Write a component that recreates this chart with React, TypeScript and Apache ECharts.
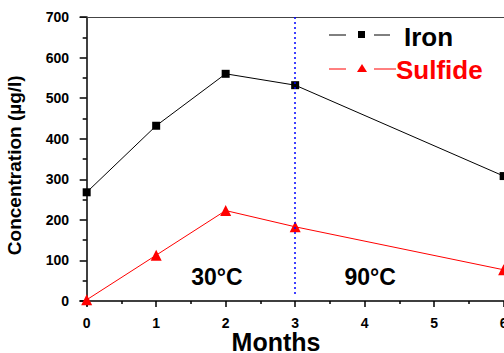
import React, { useEffect, useRef } from "react";
import * as echarts from "echarts";

const months = [0, 1, 2, 3, 6];
const iron = [268, 432, 560, 532, 308];
const sulfide = [3, 113, 223, 183, 77];
const yTicks = [0, 100, 200, 300, 400, 500, 600, 700];
const yMinor = [50, 150, 250, 350, 450, 550, 650];
const xTicks = [0, 1, 2, 3, 4, 5, 6];
const xMinor = [0.5, 1.5, 2.5, 3.5, 4.5, 5.5];
const dividerMonth = 3;
const tempLabels = [
  { text: "30°C", x: 1.875 },
  { text: "90°C", x: 4.08 },
];

const FONT = "Liberation Sans, Arial, sans-serif";

export default function App() {
  const ref = useRef<HTMLDivElement>(null);
  useEffect(() => {
    const chart = echarts.init(ref.current!, null, { renderer: "svg" });
    const baseX = {
      type: "value",
      min: -0.096,
      max: 6.005,
      splitLine: { show: false },
    };
    const baseY = {
      type: "value",
      min: -11,
      max: 700,
      splitLine: { show: false },
    };
    chart.setOption({
      animation: false,
      backgroundColor: "#fff",
      grid: {
        left: 80,
        top: 17,
        right: 0,
        height: 288.5,
        containLabel: false,
        outerBoundsMode: "none",
      },
      xAxis: [
        {
          ...baseX,
          position: "bottom",
          name: "Months",
          nameLocation: "middle",
          nameGap: 26,
          nameMoveOverlap: false,
          nameTextStyle: { fontFamily: FONT, fontWeight: "bold", fontSize: 25, lineHeight: 20, color: "#000", padding: [0, 32, 0, 0] },
          axisLine: { show: true, lineStyle: { color: "#000", width: 1.5 } },
          axisTick: { show: true, inside: false, length: 6, customValues: xTicks, lineStyle: { color: "#000", width: 1.5 } },
          axisLabel: { show: true, customValues: xTicks, margin: 10, fontFamily: FONT, fontWeight: "bold", fontSize: 14, color: "#000" },
        },
        {
          ...baseX,
          position: "bottom",
          axisLine: { show: false },
          axisTick: { show: true, length: 3, customValues: xMinor, lineStyle: { color: "#000", width: 1.5 } },
          axisLabel: { show: false },
        },
        {
          ...baseX,
          position: "top",
          axisLine: { show: true, lineStyle: { color: "#444", width: 1 } },
          axisTick: { show: false },
          axisLabel: { show: false },
        },
      ],
      yAxis: [
        {
          ...baseY,
          position: "left",
          name: "Concentration (µg/l)",
          nameLocation: "middle",
          nameGap: 56,
          nameMoveOverlap: false,
          nameTextStyle: { fontFamily: FONT, fontWeight: "bold", fontSize: 19, color: "#000", padding: [0, 8, 0, 0] },
          axisLine: { show: true, lineStyle: { color: "#000", width: 1.5 } },
          axisTick: { show: true, length: 7, customValues: yTicks, lineStyle: { color: "#000", width: 1.5 } },
          axisLabel: { show: true, customValues: yTicks, margin: 11, fontFamily: FONT, fontWeight: "bold", fontSize: 14, color: "#000" },
        },
        {
          ...baseY,
          position: "left",
          axisLine: { show: false },
          axisTick: { show: true, length: 4, customValues: yMinor, lineStyle: { color: "#000", width: 1.5 } },
          axisLabel: { show: false },
        },
      ],
      series: [
        {
          name: "Iron",
          type: "line",
          data: months.map((m, i) => [m, iron[i]]),
          symbol: "rect",
          symbolSize: 8,
          clip: false,
          lineStyle: { color: "#000", width: 1 },
          itemStyle: { color: "#000" },
          markLine: {
            silent: true,
            symbol: "none",
            label: { show: false },
            lineStyle: { color: "#0000ff", type: [2, 3], width: 1.5 },
            data: [[{ coord: [dividerMonth, 700] }, { coord: [dividerMonth, 15] }]],
          },
        },
        {
          name: "Sulfide",
          type: "line",
          data: months.map((m, i) => [m, sulfide[i]]),
          symbol: "triangle",
          symbolSize: 11,
          clip: false,
          lineStyle: { color: "#ff0000", width: 1 },
          itemStyle: { color: "#ff0000" },
          markPoint: {
            silent: true,
            symbol: "rect",
            symbolSize: 1,
            itemStyle: { color: "rgba(0,0,0,0)" },
            data: tempLabels.map((t) => ({
              coord: [t.x, 59],
              value: t.text,
              label: {
                show: true,
                position: "inside",
                formatter: t.text,
                fontFamily: FONT,
                fontWeight: "bold",
                fontSize: 23,
                color: "#000",
              },
            })),
          },
        },
      ],
      graphic: [
        { type: "line", shape: { x1: 329, y1: 35, x2: 346, y2: 35 }, style: { stroke: "#000", lineWidth: 1 } },
        { type: "rect", shape: { x: 358, y: 31, width: 7, height: 7 }, style: { fill: "#000" } },
        { type: "line", shape: { x1: 374, y1: 35, x2: 390, y2: 35 }, style: { stroke: "#000", lineWidth: 1 } },
        { type: "text", x: 404, y: 37, style: { text: "Iron", font: `bold 26px ${FONT}`, fill: "#000", verticalAlign: "middle" } },
        { type: "line", shape: { x1: 329, y1: 69, x2: 346, y2: 69 }, style: { stroke: "#ff0000", lineWidth: 1 } },
        { type: "polygon", shape: { points: [[362, 64], [357, 72], [367, 72]] }, style: { fill: "#ff0000" } },
        { type: "line", shape: { x1: 374, y1: 69, x2: 396, y2: 69 }, style: { stroke: "#ff0000", lineWidth: 1 } },
        { type: "text", x: 396, y: 70, style: { text: "Sulfide", font: `bold 26px ${FONT}`, fill: "#ff0000", verticalAlign: "middle" } },
      ],
    });
    return () => chart.dispose();
  }, []);
  return <div ref={ref} style={{ width: 504, height: 353, position: "absolute", left: 0, top: 0 }} />;
}
